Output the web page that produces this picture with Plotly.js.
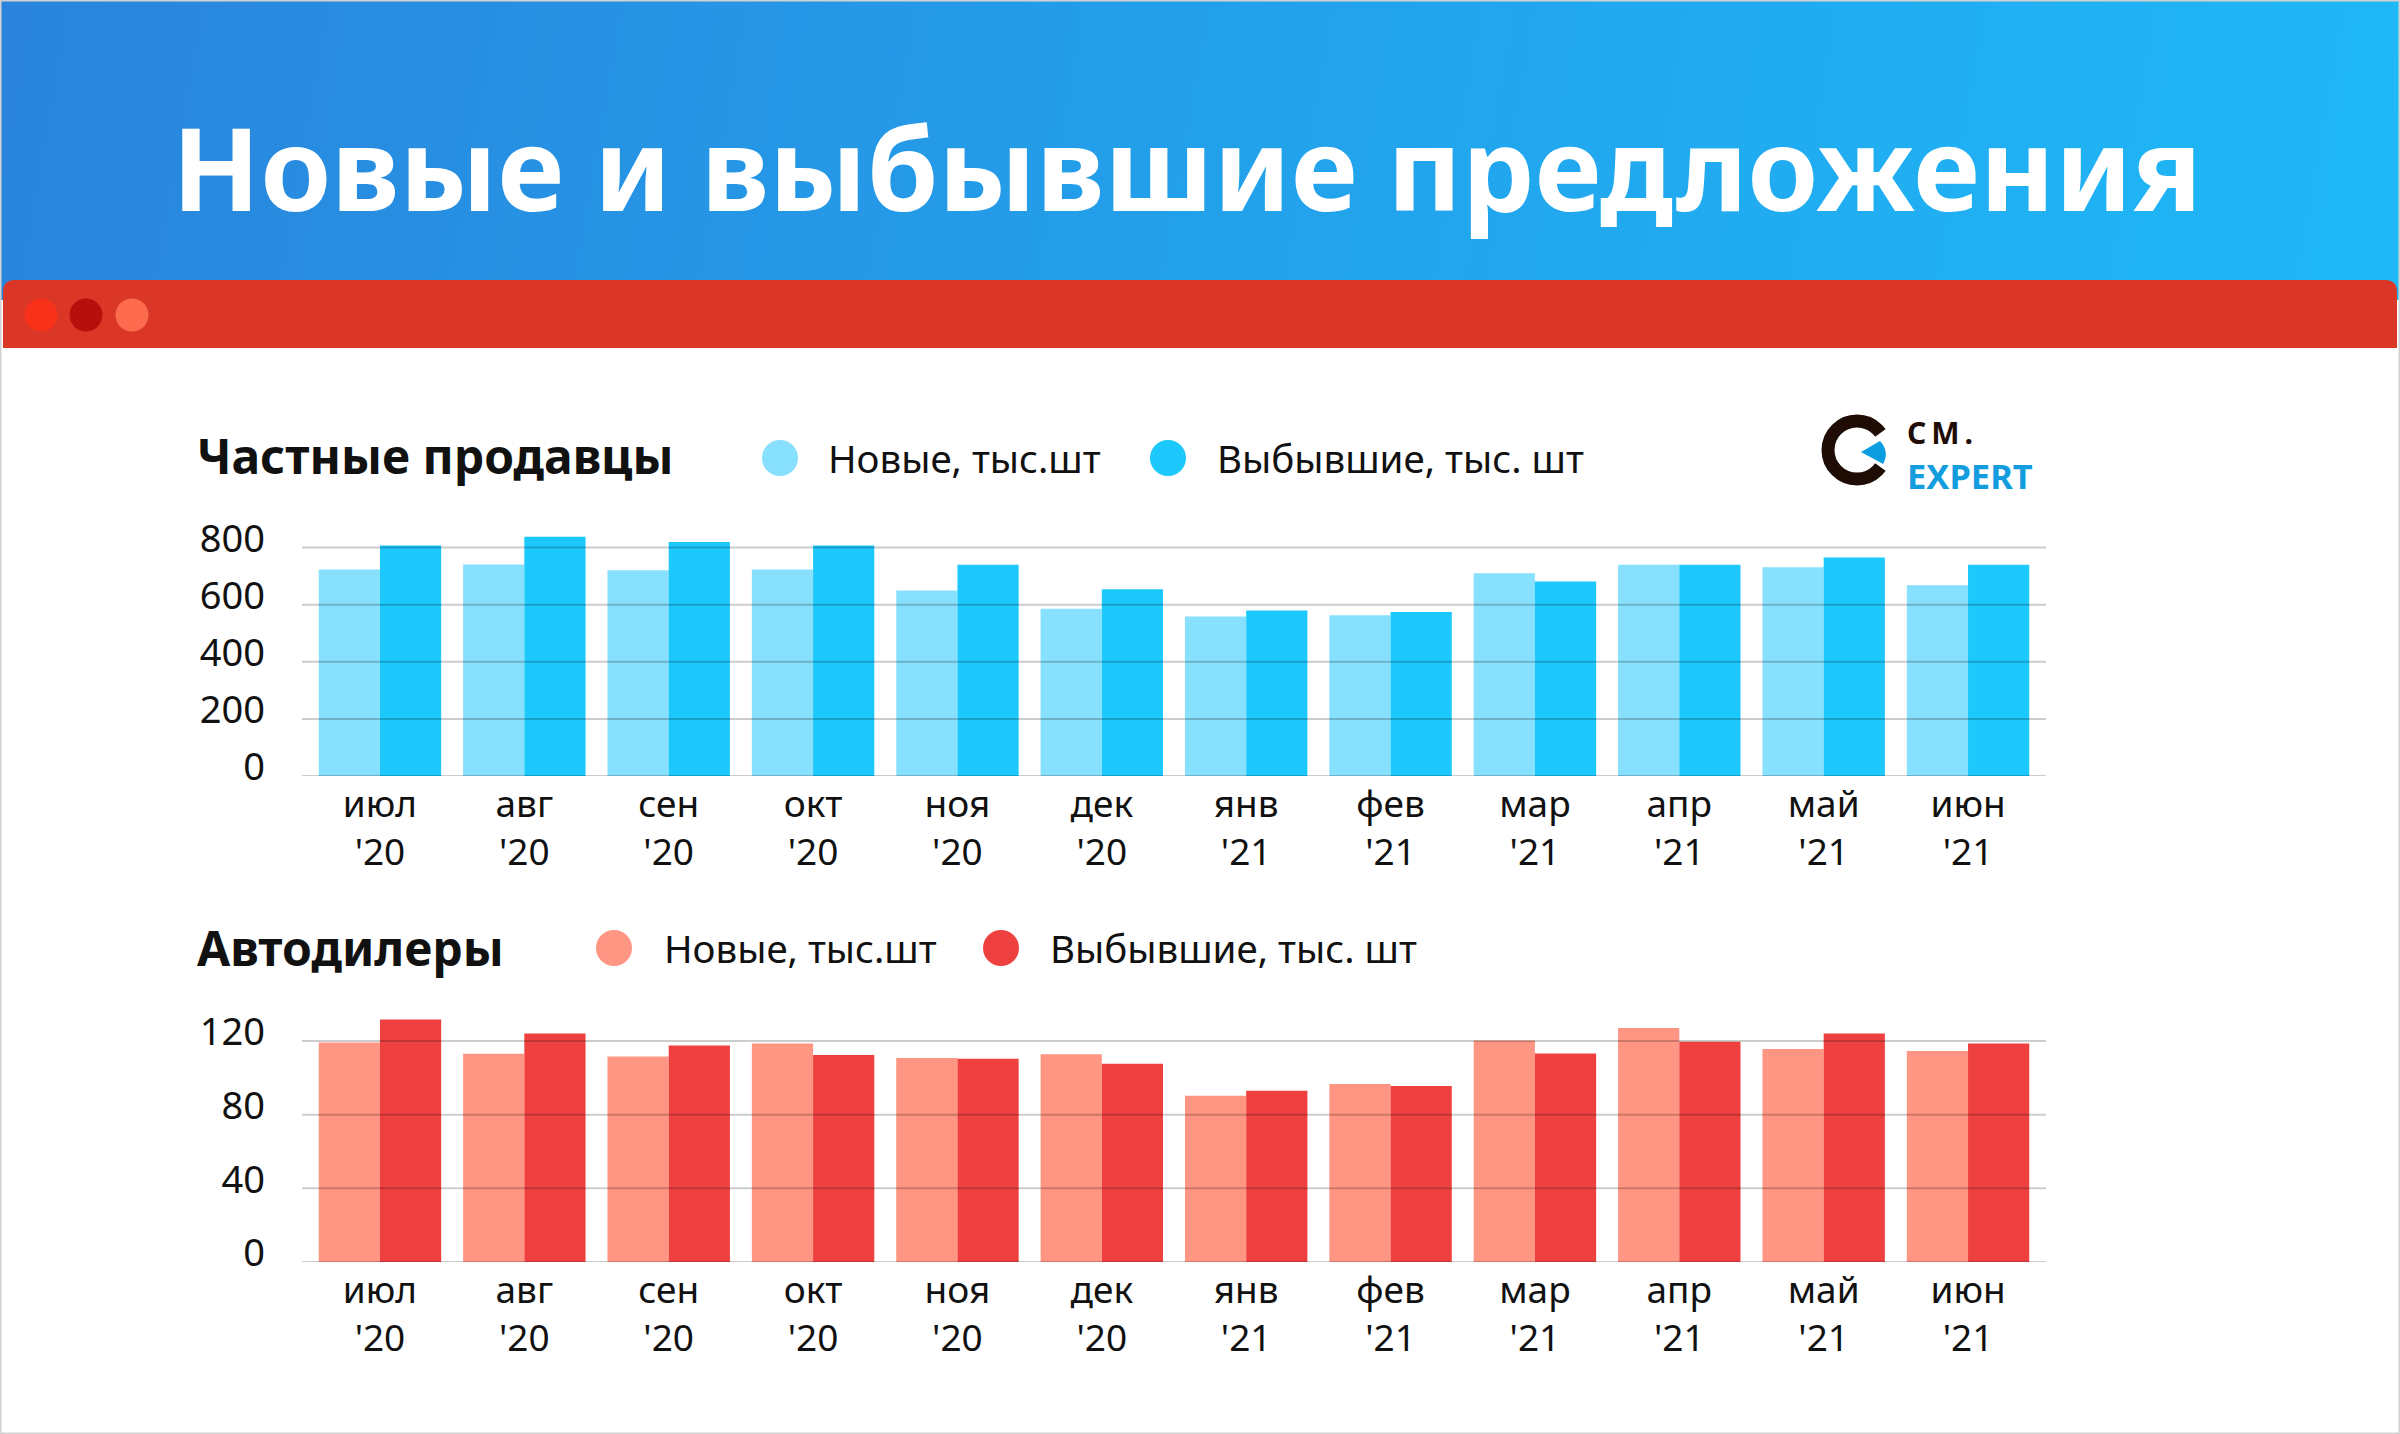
<!DOCTYPE html>
<html>
<head>
<meta charset="utf-8">
<script src="https://cdn.plot.ly/plotly-3.0.1.min.js"></script>
<style>
html,body{margin:0;padding:0;background:#fff;}
#wrap{position:relative;width:2400px;height:1434px;overflow:hidden;
  background:linear-gradient(100deg,#2a84dc 0%,#22a3ec 55%,#1fb8f7 100%) no-repeat top left/2400px 300px,#ffffff;}
#chart{position:absolute;left:0;top:0;width:2400px;height:1434px;}
</style>
</head>
<body>
<div id="wrap"><div id="chart"></div></div>
<script>
// ---------------- data ----------------
const months = ['июл','авг','сен','окт','ноя','дек','янв','фев','мар','апр','май','июн'];
const years  = ["'20","'20","'20","'20","'20","'20","'21","'21","'21","'21","'21","'21"];

const privateNew  = [723, 741, 721, 723, 650, 586, 559, 563, 710, 740, 731, 668];
const privateGone = [807, 838, 820, 807, 740, 654, 580, 574, 681, 740, 765, 740];

const dealerNew  = [119.1, 113.0, 111.5, 118.6, 110.8, 112.8, 90.3, 96.6, 120.2, 127.0, 115.7, 114.6];
const dealerGone = [131.7, 124.1, 117.5, 112.4, 110.3, 107.6, 93.0, 95.5, 113.2, 119.6, 124.1, 118.6];

const seriesNames = ['Новые, тыс.шт', 'Выбывшие, тыс. шт'];
const sectionTitles = ['Частные продавцы', 'Автодилеры'];
const mainTitle = 'Новые и выбывшие предложения';
const yTicks1 = [0, 200, 400, 600, 800];
const yTicks2 = [0, 40, 80, 120];

// ---------------- helpers ----------------
const W = 2400, H = 1434;
const px = x => x / W;
const py = y => 1 - y / H;
const FONT = 'Noto Sans, Open Sans, sans-serif';

const cats = months.map((m, i) => m + '<br>' + years[i]);

const colors = {
  privNew: '#87e0fd', privGone: '#1cc8fc',
  dealNew: '#ff9583', dealGone: '#ef4040'
};

const traces = [
  {type:'bar', x:cats, y:privateNew, name:seriesNames[0], xaxis:'x', yaxis:'y',
   marker:{color:colors.privNew, line:{width:0}}, showlegend:false, hoverinfo:'skip'},
  {type:'bar', x:cats, y:privateGone, name:seriesNames[1], xaxis:'x', yaxis:'y',
   marker:{color:colors.privGone, line:{width:0}}, showlegend:false, hoverinfo:'skip'},
  {type:'bar', x:cats, y:dealerNew, name:seriesNames[0], xaxis:'x2', yaxis:'y2',
   marker:{color:colors.dealNew, line:{width:0}}, showlegend:false, hoverinfo:'skip'},
  {type:'bar', x:cats, y:dealerGone, name:seriesNames[1], xaxis:'x2', yaxis:'y2',
   marker:{color:colors.dealGone, line:{width:0}}, showlegend:false, hoverinfo:'skip'}
];

const xDomain = [px(302), px(2046)];
const y1Domain = [py(776), py(776 - 880 * 0.2855)];
const y2Domain = [py(1262), py(1262 - 140 * 1.842)];
const xRange = [-0.54, 11.54];

const shapes = [];
const annotations = [];

// outer light border
shapes.push({type:'rect', xref:'paper', yref:'paper', x0:0, x1:1, y0:0, y1:1,
  line:{color:'#d2d2d2', width:3}, fillcolor:'rgba(0,0,0,0)', layer:'above'});

// red window bar with rounded top corners
(function(){
  const x0 = 3, x1 = 2397, y0 = 280, y1 = 348, r = 12;
  const p = (x, y) => px(x) + ',' + py(y);
  const path = 'M' + p(x0, y1) + ' L' + p(x0, y0 + r) + ' Q' + p(x0, y0) + ' ' + p(x0 + r, y0) +
    ' L' + p(x1 - r, y0) + ' Q' + p(x1, y0) + ' ' + p(x1, y0 + r) + ' L' + p(x1, y1) + ' Z';
  shapes.push({type:'path', xref:'paper', yref:'paper', path:path,
    fillcolor:'#da3726', line:{width:0}, layer:'below'});
})();

// window dots
[[41,'#f8311b'],[86,'#b5100b'],[132,'#fd6b4f']].forEach(([cx, c]) => {
  shapes.push({type:'circle', xref:'paper', yref:'paper',
    x0:px(cx - 16.5), x1:px(cx + 16.5), y0:py(315 + 16.5), y1:py(315 - 16.5),
    fillcolor:c, line:{width:0}, layer:'above'});
});

// gridlines drawn above the bars
yTicks1.forEach(v => shapes.push({type:'line', xref:'paper', yref:'y',
  x0:xDomain[0], x1:xDomain[1], y0:v, y1:v, line:{color:'rgba(0,0,0,0.2)', width:2}, layer:'above'}));
yTicks2.forEach(v => shapes.push({type:'line', xref:'paper', yref:'y2',
  x0:xDomain[0], x1:xDomain[1], y0:v, y1:v, line:{color:'rgba(0,0,0,0.2)', width:2}, layer:'above'}));

// section titles + legends
function section(title, titleX, titleY, items){
  annotations.push({xref:'paper', yref:'paper', x:px(titleX), y:py(titleY),
    xanchor:'left', yanchor:'middle', showarrow:false, text:title,
    font:{family:FONT, size:48, color:'#111', weight:700}});
  items.forEach(it => {
    shapes.push({type:'circle', xref:'paper', yref:'paper',
      x0:px(it.cx - 18), x1:px(it.cx + 18), y0:py(it.cy + 18), y1:py(it.cy - 18),
      fillcolor:it.color, line:{width:0}, layer:'above'});
    annotations.push({xref:'paper', yref:'paper', x:px(it.tx), y:py(it.cy),
      xanchor:'left', yanchor:'middle', showarrow:false, text:it.text,
      font:{family:FONT, size:38.5, color:'#111'}});
  });
}
section(sectionTitles[0], 195, 455, [
  {cx:780, cy:458, tx:826, text:seriesNames[0], color:colors.privNew},
  {cx:1168, cy:458, tx:1215, text:seriesNames[1], color:colors.privGone}
]);
section(sectionTitles[1], 195, 948, [
  {cx:614, cy:948, tx:662, text:seriesNames[0], color:colors.dealNew},
  {cx:1001, cy:948, tx:1048, text:seriesNames[1], color:colors.dealGone}
]);

// logo
(function(){
  const cx = 1857, cy = 450;
  shapes.push({type:'circle', xref:'paper', yref:'paper',
    x0:px(cx - 29), x1:px(cx + 29), y0:py(cy + 29), y1:py(cy - 29),
    fillcolor:'rgba(0,0,0,0)', line:{color:'#1e0c05', width:13}, layer:'above'});
  const a = 36 * Math.PI / 180, R = 50;
  const p = (x, y) => px(x) + ',' + py(y);
  shapes.push({type:'path', xref:'paper', yref:'paper',
    path:'M' + p(cx, cy) + ' L' + p(cx + R * Math.cos(a), cy - R * Math.sin(a)) +
      ' L' + p(cx + R * Math.cos(a), cy + R * Math.sin(a)) + ' Z',
    fillcolor:'#ffffff', line:{width:0}, layer:'above'});
  shapes.push({type:'path', xref:'paper', yref:'paper',
    path:'M' + p(1861, 452) + ' L' + p(1880, 441) + ' Q' + p(1890, 452) + ' ' + p(1883, 464) + ' Z',
    fillcolor:'#0c9de0', line:{width:0}, layer:'above'});
  annotations.push({xref:'paper', yref:'paper', x:px(1905), y:py(432), xanchor:'left', yanchor:'middle',
    showarrow:false, text:'C\u2009M\u2009.',
    font:{family:FONT, size:30, color:'#1e0c05', weight:700}});
  annotations.push({xref:'paper', yref:'paper', x:px(1905), y:py(476), xanchor:'left', yanchor:'middle',
    showarrow:false, text:'EXPERT',
    font:{family:FONT, size:34.5, color:'#139ddf', weight:700}});
})();

const xCommon = {type:'category', domain:xDomain, range:xRange, showgrid:false, zeroline:false,
  showline:false, ticks:'', tickfont:{family:FONT, size:37, color:'#111'}, ticklabelstandoff:3, fixedrange:true};
const yCommon = {showgrid:false, zeroline:false, showline:false, ticks:'',
  tickfont:{family:FONT, size:38, color:'#111'}, ticklabelstandoff:36, ticklabelshift:-9, fixedrange:true};

const layout = {
  width:W, height:H,
  margin:{l:0, r:0, t:0, b:0},
  paper_bgcolor:'rgba(0,0,0,0)', plot_bgcolor:'rgba(0,0,0,0)',
  font:{family:FONT},
  title:{text:mainTitle, x:px(172), xanchor:'left', xref:'paper', y:py(171), yanchor:'middle', yref:'paper',
    font:{family:FONT, size:114.5, color:'#ffffff', weight:700}},
  barmode:'group', bargap:0.152, bargroupgap:0,
  showlegend:false,
  xaxis:Object.assign({}, xCommon, {anchor:'y'}),
  yaxis:Object.assign({}, yCommon, {domain:y1Domain, range:[0, 880], tickvals:yTicks1, ticktext:yTicks1.map(String), anchor:'x'}),
  xaxis2:Object.assign({}, xCommon, {anchor:'y2'}),
  yaxis2:Object.assign({}, yCommon, {domain:y2Domain, range:[0, 140], tickvals:yTicks2, ticktext:yTicks2.map(String), anchor:'x2'}),
  shapes:shapes,
  annotations:annotations
};

Plotly.newPlot('chart', traces, layout, {displayModeBar:false, staticPlot:true});
</script>
</body>
</html>
